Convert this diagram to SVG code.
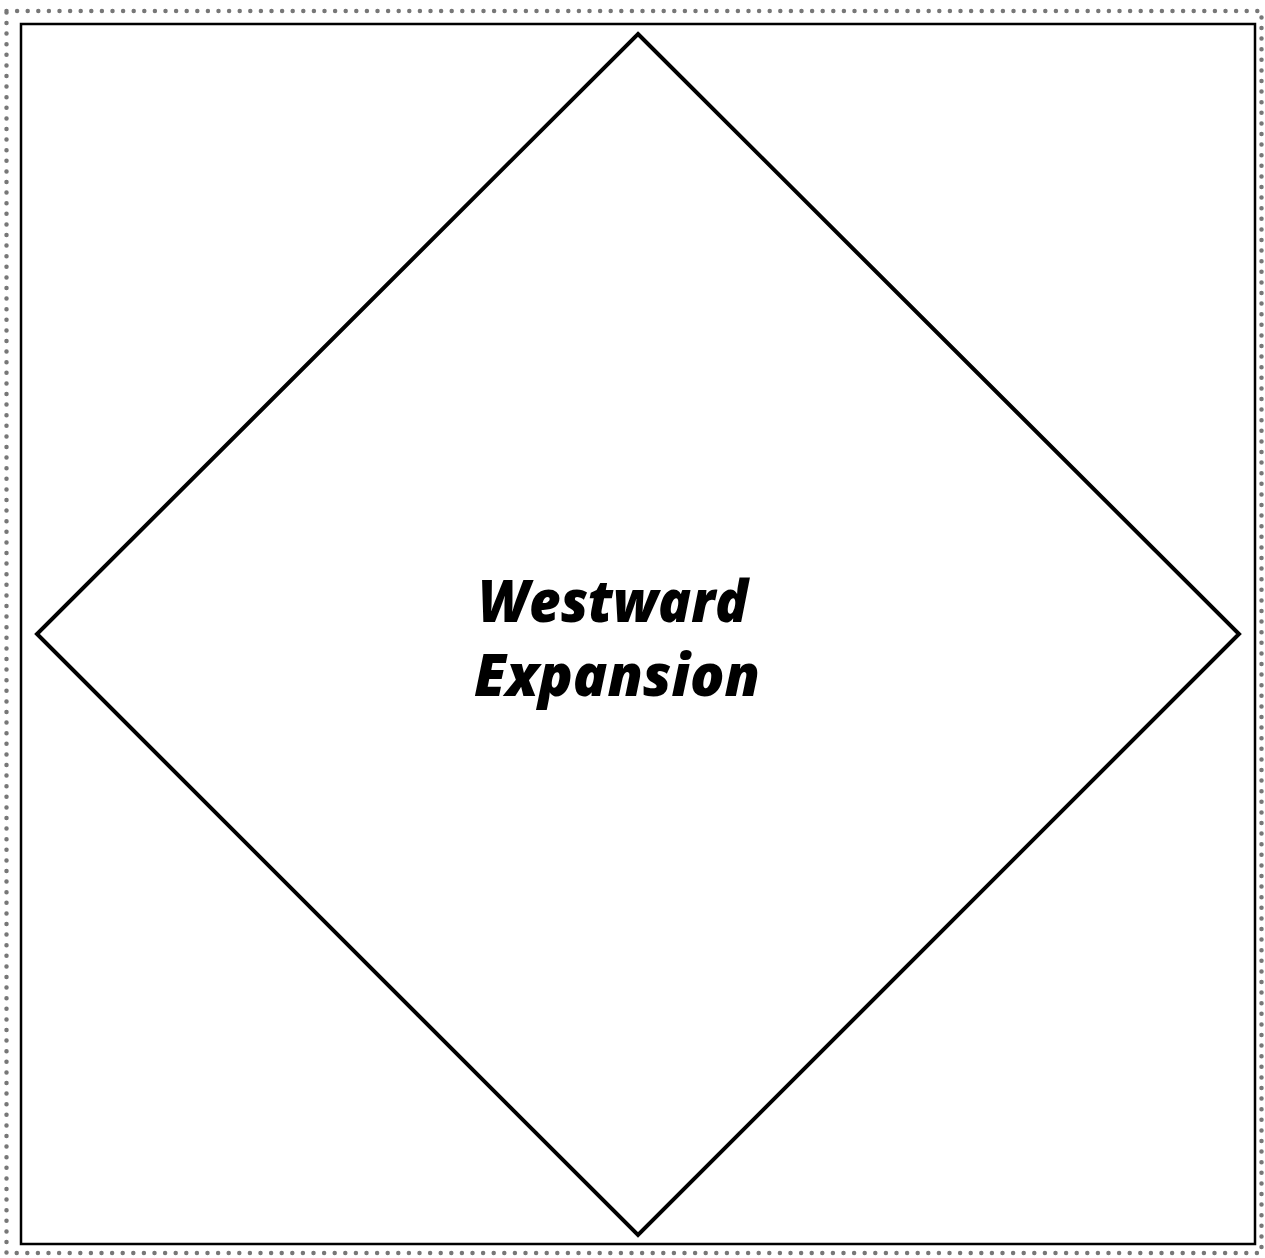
<svg xmlns="http://www.w3.org/2000/svg" width="1265" height="1258" viewBox="0 0 1265 1258">
<style>
.frame{fill:none;stroke:#777;stroke-width:4.5;stroke-linecap:round;stroke-dasharray:0 10.6}
.box{fill:#fff;stroke:#000;stroke-width:2.5}
.shape{fill:#fff;stroke:#000;stroke-width:4;stroke-linejoin:miter}
.label{font-family:"Open Sans","Noto Sans","Liberation Sans",sans-serif;font-weight:800;font-style:italic;font-size:58px;fill:#000;text-anchor:middle}
</style>
<rect width="1265" height="1258" fill="#fff"/>
<rect class="frame" x="6.5" y="11" width="1255" height="1242"/>
<g id="border">
<rect class="box" x="21" y="24" width="1234" height="1220"/>
</g>
<g id="connectors"></g>
<g id="node-westward-expansion">
<polygon class="shape" points="638,34 1239,634 638,1235 37,634"/>
<text class="label" x="613" y="622" textLength="270" lengthAdjust="spacingAndGlyphs">Westward</text>
<text class="label" x="617" y="696" textLength="286" lengthAdjust="spacingAndGlyphs">Expansion</text>
</g>
</svg>
